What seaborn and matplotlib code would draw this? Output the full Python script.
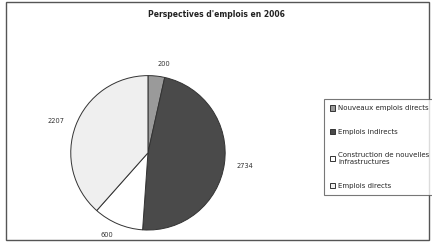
import matplotlib
matplotlib.use("Agg")
import matplotlib.pyplot as plt
import seaborn as sns
from matplotlib.patches import Rectangle

# Data
categories = [
    "Nouveaux emplois directs",
    "Emplois indirects",
    "Construction de nouvelles\ninfrastructures",
    "Emplois directs",
]
values = [200, 2734, 600, 2207]
colors = ["#9a9a9a", "#4a4a4a", "#ffffff", "#efefef"]

sns.set_style("white")
plt.rcParams["font.family"] = ["DejaVu Sans"]

fig = plt.figure(figsize=(4.32, 2.42), dpi=100)

# outer frame
fig.patches.append(Rectangle((0.014, 0.008), 0.98, 0.984, transform=fig.transFigure,
                             fill=False, edgecolor="#555555", linewidth=1.0))

fig.text(0.5, 0.94, "Perspectives d'emplois en 2006", ha="center", va="center",
         fontsize=5.5, fontweight="bold", color="#222222")

ax = fig.add_axes([0.162, 0.046, 0.361, 0.645])
wedges, texts = ax.pie(
    values,
    labels=[str(v) for v in values],
    colors=colors,
    startangle=90,
    counterclock=False,
    labeldistance=1.16,
    wedgeprops={"edgecolor": "#333333", "linewidth": 0.7},
    textprops={"fontsize": 4.8, "color": "#333333"},
)
ax.set_xlim(-1.01, 1.01)
ax.set_ylim(-1.01, 1.01)
ax.set_aspect("equal")

leg = fig.legend(
    wedges, categories,
    loc="upper left",
    bbox_to_anchor=(0.741, 0.605),
    fontsize=5.0,
    frameon=True,
    fancybox=False,
    edgecolor="#555555",
    labelspacing=2.5,
    handlelength=0.8,
    handleheight=0.8,
    handletextpad=0.4,
    borderpad=0.9,
)
leg.get_frame().set_linewidth(0.8)

fig.savefig("out.png", dpi=100)
